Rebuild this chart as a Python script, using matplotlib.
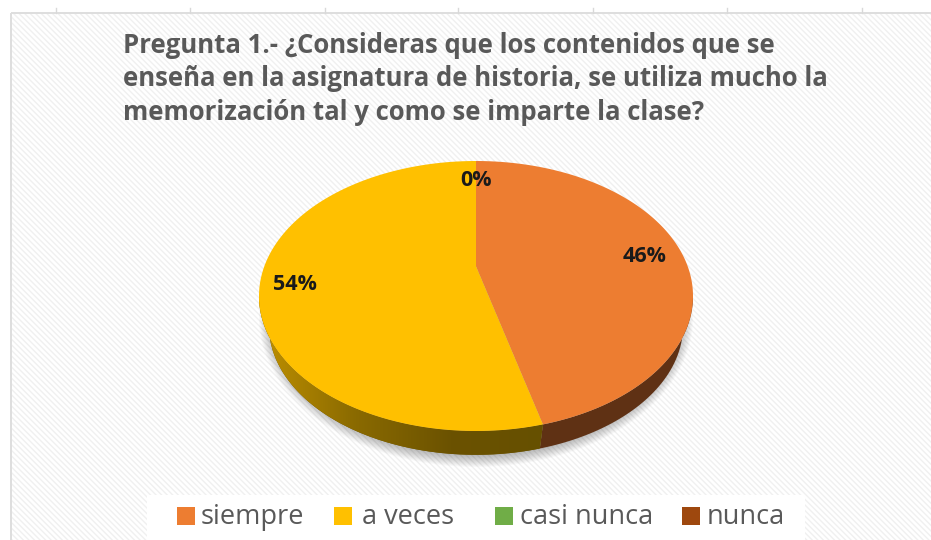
import numpy as np
import matplotlib
matplotlib.use("Agg")
import matplotlib.pyplot as plt
from matplotlib.patches import Rectangle, Ellipse
from matplotlib.colors import LinearSegmentedColormap

categories = ["siempre", "a veces", "casi nunca", "nunca"]
values = [46, 54, 0, 0]
pct_labels = ["46%", "54%", "0%"]
colors = ["#ED7D31", "#FFC000", "#70AD47", "#9E480E"]
title = ("Pregunta 1.- ¿Consideras que los contenidos que se\n"
         "enseña en la asignatura de historia, se utiliza mucho la\n"
         "memorización tal y como se imparte la clase?")
top_ticks = [56, 190, 325, 458, 593, 727, 862]

W, H = 931, 540
plt.rcParams['font.family'] = ['Open Sans', 'DejaVu Sans']
plt.rcParams['hatch.linewidth'] = 1.0
fig = plt.figure(figsize=(W/100, H/100), dpi=100, facecolor="white")

# page layer in pixel coordinates
bg = fig.add_axes([0, 0, 1, 1])
bg.set_xlim(0, W); bg.set_ylim(H, 0); bg.axis("off")
bg.add_patch(Rectangle((11, 13), 930, 560, facecolor="white", edgecolor="#f0f0f0", hatch="\\\\\\\\\\\\", lw=0))
bg.add_patch(Rectangle((11, 13), 930, 560, facecolor="none", edgecolor="#dedede", lw=1.4))
for t in top_ticks:
    bg.plot([t, t], [8, 13], color="#d9d9d9", lw=1)
bg.text(123, 79, title, fontsize=18.5, fontweight="bold", color="#595959",
        ha="left", va="center", linespacing=1.29)

# soft shadow below the pie
for g in np.linspace(11, 0, 12):
    bg.add_patch(Ellipse((476, 318), 2*(206+g), 2*(138+g), facecolor="#000000", alpha=0.025, lw=0))

# legend band
bg.add_patch(Rectangle((147, 495), 658, 45, facecolor="white", edgecolor="none", zorder=3))
swatch_x = [177, 334, 495, 682]
text_x = [201, 362, 520, 707]
for c, name, sx, tx in zip(colors, categories, swatch_x, text_x):
    bg.add_patch(Rectangle((sx, 507), 18, 18, facecolor=c, edgecolor="none", zorder=4))
    bg.text(tx, 517, name, fontsize=19.5, color="#595959", va="center", ha="left", zorder=4)

# pie axes: one data unit = the ellipse radii
rx, ry, cx, cy = 217, 135, 476, 296
m = 1.4
pie_ax = fig.add_axes([(cx - m*rx)/W, 1 - (cy + m*ry)/H, 2*m*rx/W, 2*m*ry/H])
pie_ax.patch.set_alpha(0)

tilt = 0.22  # perspective: the circle centre appears above the ellipse centre


def project(x, y):
    d = 1 + tilt*y
    return x*np.sqrt(1 - tilt**2)/d, (y + tilt)/d


top, _ = pie_ax.pie(values, colors=colors, startangle=90, counterclock=False, radius=1,
                    wedgeprops=dict(lw=0), frame=False)
for w in top:
    w.set_visible(False)
    if w.theta2 - w.theta1 < 1e-6:
        continue
    ang = np.radians(np.linspace(w.theta1, w.theta2, 400))
    qx = np.r_[0, w.r*np.cos(ang)]
    qy = np.r_[0, w.r*np.sin(ang)]
    px, py = project(qx, qy)
    pie_ax.fill(px, py, color=w.get_facecolor(), lw=0, zorder=2)

# rim between the top ellipse and a smaller, lower ellipse
frac = values[0]/sum(values)
a = np.pi/2 - 2*np.pi*frac
sx_, sy_ = project(np.cos(a), np.sin(a))
split = np.arctan2(sy_, sx_)
low_r, low_dy = 0.954, 30/135


def rim(t0, t1, color):
    t = np.linspace(t0, t1, 200)
    xs = np.r_[low_r*np.cos(t), np.cos(t)[::-1]]
    ys = np.r_[low_r*np.sin(t) - low_dy, np.sin(t)[::-1]]
    return pie_ax.fill(xs, ys, color=color, lw=0, zorder=1)[0]


rim(split, 0, "#5F3114")
yellow_rim = rim(-np.pi, split, "#6B5200")
cmap = LinearSegmentedColormap.from_list("rim", ["#BF9000", "#8A6A00", "#6B5200", "#665000"])
im = pie_ax.imshow(np.linspace(0, 1, 256)[None, :], extent=(-1, 0.33, -1.3, 0.2),
                   aspect="auto", cmap=cmap, zorder=1.5)
im.set_clip_path(yellow_rim)

pie_ax.set_aspect("auto")
pie_ax.set_xlim(-m, m); pie_ax.set_ylim(-m, m)
pie_ax.axis("off")

label_pos = [(645, 257), (295, 284), (476, 181)]
for lab, (x, y) in zip(pct_labels, label_pos):
    pie_ax.annotate(lab, xy=(x, y), xycoords=bg.transData, fontsize=15.5, fontweight="bold",
                    color="#1a1a1a", ha="center", va="center", zorder=5)

fig.savefig("out.png", dpi=100)
